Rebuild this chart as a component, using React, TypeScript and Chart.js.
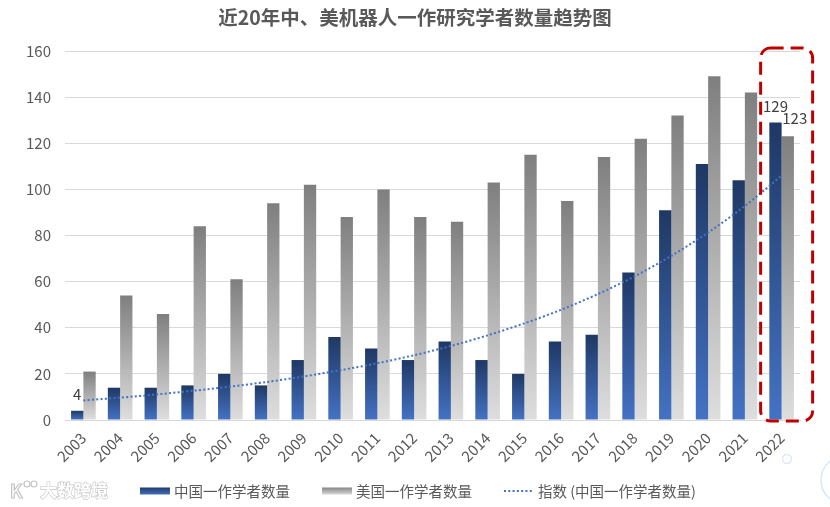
import { useEffect, useRef } from "react";
import { Chart, registerables } from "chart.js";

Chart.register(...registerables);

const titleText = "近20年中、美机器人一作研究学者数量趋势图";
const years = ["2003", "2004", "2005", "2006", "2007", "2008", "2009", "2010", "2011", "2012", "2013", "2014", "2015", "2016", "2017", "2018", "2019", "2020", "2021", "2022"];
const chinaCounts = [4, 14, 14, 15, 20, 15, 26, 36, 31, 26, 34, 26, 20, 34, 37, 64, 91, 111, 104, 129];
const usCounts = [21, 54, 46, 84, 61, 94, 102, 88, 100, 88, 86, 103, 115, 95, 114, 122, 132, 149, 142, 123];
const chinaTrend = [8.5, 9.7, 11.1, 12.7, 14.5, 16.5, 18.9, 21.6, 24.6, 28.1, 32.1, 36.7, 41.9, 47.8, 54.6, 62.3, 71.2, 81.3, 92.8, 106];
const seriesNames = ["中国一作学者数量", "美国一作学者数量", "指数 (中国一作学者数量)"];
const yMin = 0;
const yMax = 160;
const yStep = 20;
const labelledChina = [0, 19];
const labelledUs = [19];
const highlightIndex = 19;
const watermarkText = "大数跨境";

const FONT = '"Noto Sans CJK SC", "Noto Sans", sans-serif';
const TEXT = "#595959";
const BLUE_TOP = "#1F3864";
const BLUE_BOTTOM = "#4472C4";
const GRAY_TOP = "#7F7F7F";
const GRAY_BOTTOM = "#DEDEDE";
const TREND = "#4472C4";

function barGradient(top: string, bottom: string) {
  return (c: any) => {
    const chart = c.chart;
    if (!chart.chartArea || c.type !== "data") return bottom;
    const v = c.parsed ? c.parsed.y : c.raw;
    const ys = chart.scales.y;
    const y0 = ys.getPixelForValue(v);
    const y1 = ys.getPixelForValue(0);
    if (!isFinite(y0) || !isFinite(y1) || y1 - y0 < 1) return bottom;
    const g = chart.ctx.createLinearGradient(0, y0, 0, y1);
    g.addColorStop(0, top);
    g.addColorStop(1, bottom);
    return g;
  };
}

const titlePlugin = {
  id: "titlePlugin",
  afterDraw(chart: any) {
    const ctx = chart.ctx;
    ctx.save();
    ctx.font = `bold 19.5px ${FONT}`;
    ctx.fillStyle = TEXT;
    ctx.textAlign = "center";
    ctx.textBaseline = "middle";
    ctx.fillText(titleText, chart.width / 2, 18);
    ctx.restore();
  },
};

const valueLabels = {
  id: "valueLabels",
  afterDatasetsDraw(chart: any) {
    const ctx = chart.ctx;
    ctx.save();
    ctx.font = `15px ${FONT}`;
    ctx.fillStyle = "#404040";
    ctx.textAlign = "center";
    ctx.textBaseline = "middle";
    const mChina = chart.getDatasetMeta(1);
    labelledChina.forEach((i) => {
      const el = mChina.data[i];
      ctx.fillText(String(chinaCounts[i]), el.x, el.y - 16);
    });
    const mUs = chart.getDatasetMeta(2);
    labelledUs.forEach((i) => {
      const el = mUs.data[i];
      ctx.fillText(String(usCounts[i]), el.x + 7, el.y - 18);
    });
    ctx.restore();
  },
};

const highlightBox = {
  id: "highlightBox",
  afterDraw(chart: any) {
    const { ctx, chartArea, scales } = chart;
    const cx = scales.x.getPixelForValue(highlightIndex) + 5;
    const left = cx - 26;
    const right = cx + 26;
    const top = chartArea.top - 3;
    const bottom = chartArea.bottom + 1;
    ctx.save();
    ctx.strokeStyle = "#C00000";
    ctx.lineWidth = 3;
    ctx.setLineDash([13, 7]);
    ctx.beginPath();
    if (ctx.roundRect) ctx.roundRect(left, top, right - left, bottom - top, 10);
    else ctx.rect(left, top, right - left, bottom - top);
    ctx.stroke();
    ctx.restore();
  },
};

const customLegend = {
  id: "customLegend",
  afterDraw(chart: any) {
    const ctx = chart.ctx;
    const yc = 491;
    const sw = 30;
    const gapText = 4;
    const gapItem = 32;
    ctx.save();
    ctx.font = `14.5px ${FONT}`;
    ctx.textBaseline = "middle";
    ctx.textAlign = "left";
    const widths = seriesNames.map((n) => ctx.measureText(n).width);
    const total = widths.reduce((a, w) => a + sw + gapText + w, 0) + gapItem * (seriesNames.length - 1);
    let x = (chart.width - total) / 2 + 3;
    seriesNames.forEach((name, i) => {
      if (i < 2) {
        const g = ctx.createLinearGradient(0, yc - 4, 0, yc + 4);
        g.addColorStop(0, i === 0 ? BLUE_TOP : GRAY_TOP);
        g.addColorStop(1, i === 0 ? BLUE_BOTTOM : GRAY_BOTTOM);
        ctx.fillStyle = g;
        ctx.fillRect(x, yc - 3.5, sw, 7);
      } else {
        ctx.strokeStyle = TREND;
        ctx.lineWidth = 2;
        ctx.setLineDash([2, 2.3]);
        ctx.beginPath();
        ctx.moveTo(x, yc);
        ctx.lineTo(x + sw, yc);
        ctx.stroke();
        ctx.setLineDash([]);
      }
      ctx.fillStyle = TEXT;
      ctx.fillText(name, x + sw + gapText, yc);
      x += sw + gapText + widths[i] + gapItem;
    });
    ctx.restore();
  },
};

const watermark = {
  id: "watermark",
  afterDraw(chart: any) {
    const ctx = chart.ctx;
    ctx.save();
    ctx.font = `bold 17px ${FONT}`;
    ctx.textBaseline = "middle";
    ctx.textAlign = "left";
    ctx.fillStyle = "#FFFFFF";
    ctx.strokeStyle = "#C4C4C4";
    ctx.lineWidth = 1.2;
    ctx.strokeText(watermarkText, 40, 491);
    ctx.fillText(watermarkText, 40, 491);
    ctx.font = `bold 18px ${FONT}`;
    ctx.strokeText("K", 10, 491);
    ctx.beginPath();
    ctx.arc(27, 484, 3, 0, Math.PI * 2);
    ctx.stroke();
    ctx.beginPath();
    ctx.arc(34, 484, 3, 0, Math.PI * 2);
    ctx.stroke();
    ctx.strokeStyle = "#DCE8F4";
    ctx.lineWidth = 1.5;
    ctx.beginPath();
    ctx.arc(787, 459, 4.5, 0, Math.PI * 2);
    ctx.stroke();
    ctx.beginPath();
    ctx.arc(845, 480, 24, 0, Math.PI * 2);
    ctx.stroke();
    ctx.restore();
  },
};

export default function App() {
  const ref = useRef<HTMLCanvasElement | null>(null);

  useEffect(() => {
    if (!ref.current) return;
    const chart = new Chart(ref.current, {
      type: "bar",
      data: {
        labels: years,
        datasets: [
          {
            type: "line",
            label: seriesNames[2],
            data: chinaTrend,
            borderColor: TREND,
            borderWidth: 2,
            borderDash: [2, 2.3],
            pointRadius: 0,
            tension: 0.3,
            fill: false,
            order: 0,
          } as any,
          {
            label: seriesNames[0],
            data: chinaCounts,
            backgroundColor: barGradient(BLUE_TOP, BLUE_BOTTOM),
            borderWidth: 0,
            categoryPercentage: 0.67,
            barPercentage: 1,
            order: 1,
          },
          {
            label: seriesNames[1],
            data: usCounts,
            backgroundColor: barGradient(GRAY_TOP, GRAY_BOTTOM),
            borderWidth: 0,
            categoryPercentage: 0.67,
            barPercentage: 1,
            order: 1,
          },
        ],
      },
      options: {
        animation: false,
        responsive: true,
        maintainAspectRatio: false,
        layout: { padding: { left: 0, right: 30, top: 51, bottom: 40 } },
        plugins: {
          legend: { display: false },
          tooltip: { enabled: false },
          title: { display: false },
        },
        scales: {
          x: {
            grid: { display: false },
            border: { display: true, color: "#D9D9D9", width: 1 },
            ticks: {
              color: TEXT,
              font: { family: FONT, size: 15 },
              minRotation: 45,
              maxRotation: 45,
              padding: 1,
              autoSkip: false,
            },
            afterFit: (s: any) => {
              s.height = 47;
            },
          },
          y: {
            min: yMin,
            max: yMax,
            grid: { color: "#D9D9D9", lineWidth: 1, drawTicks: false },
            border: { display: false },
            ticks: {
              stepSize: yStep,
              color: TEXT,
              font: { family: FONT, size: 15 },
              padding: 14,
            },
            afterFit: (s: any) => {
              s.width = 65;
            },
          },
        },
      },
      plugins: [titlePlugin, valueLabels, highlightBox, customLegend, watermark],
    });
    return () => chart.destroy();
  }, []);

  return (
    <div style={{ position: "fixed", left: 0, top: 0, width: 830, height: 507, background: "#fff" }}>
      <canvas ref={ref} />
    </div>
  );
}
